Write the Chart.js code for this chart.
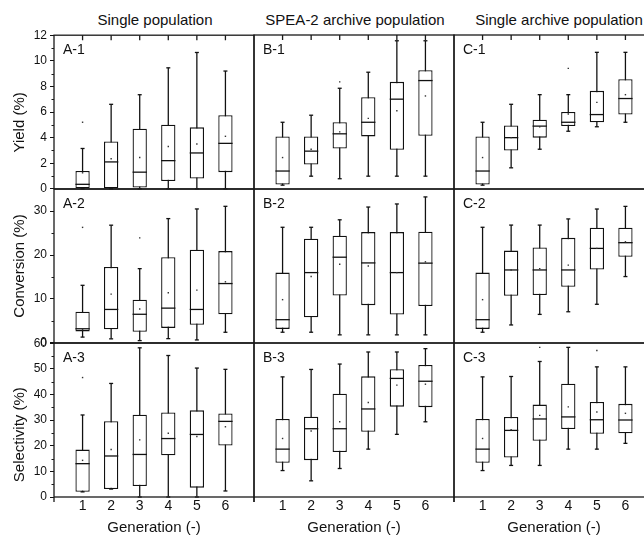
<!DOCTYPE html>
<html>
<head>
<meta charset="utf-8">
<script src="https://cdn.jsdelivr.net/npm/chart.js@4.4.0/dist/chart.umd.min.js"></script>
<style>
  body { margin: 0; background: #fff; }
  #wrap { position: relative; width: 644px; height: 537px; overflow: hidden; font-family: "Liberation Sans", Arial, sans-serif; }
  #wrap canvas { position: absolute; }
  .coltitle { position: absolute; top: 11px; font-size: 15px; line-height: 17px; white-space: nowrap; transform: translateX(-50%); color: #111; }
</style>
</head>
<body>
<div id="wrap">
  <div class="coltitle" style="left:155px">Single population</div>
  <div class="coltitle" style="left:355px">SPEA-2 archive population</div>
  <div class="coltitle" style="left:559px">Single archive population</div>
</div>
<script>
const FONT = '"Liberation Sans", Arial, sans-serif';

// categories and tick labels
const generations = [1, 2, 3, 4, 5, 6];
const yieldTicks = [0, 2, 4, 6, 8, 10, 12];
const yieldMinor = [1, 3, 5, 7, 9, 11];
const conversionTicks = [0, 10, 20, 30];
const conversionMinor = [5, 15, 25];
const selectivityTicks = [0, 10, 20, 30, 40, 50, 60];
const selectivityMinor = [5, 15, 25, 35, 45, 55];

// A-1 yield, single population
const a1Min = [0, 0, 0, 0, 0, 0];
const a1Q1 = [0, 0, 0.1, 0.6, 0.8, 1.3];
const a1Median = [0.35, 2.1, 1.3, 2.2, 2.8, 3.55];
const a1Q3 = [1.4, 3.7, 4.7, 5.0, 4.8, 5.75];
const a1Max = [3.15, 6.6, 7.35, 9.45, 10.65, 9.2];
const a1Mean = [1.25, 2.35, 2.45, 3.3, 3.5, 4.1];
const a1Outliers = [[1, 5.2]];

// B-1 yield, SPEA-2 archive population
const b1Min = [0.3, 1.0, 0.8, 1.0, 1.0, 1.0];
const b1Q1 = [0.35, 1.9, 3.15, 4.1, 3.05, 4.15];
const b1Median = [1.4, 2.95, 4.3, 5.2, 7.0, 8.45];
const b1Q3 = [4.1, 4.1, 5.2, 7.15, 8.35, 9.25];
const b1Max = [5.2, 5.75, 7.85, 9.1, 11.55, 11.55];
const b1Mean = [2.45, 3.1, 4.45, 5.5, 6.1, 7.25];
const b1Outliers = [[3, 8.35]];

// C-1 yield, single archive population
const c1Min = [0.3, 1.65, 3.1, 4.5, 4.85, 5.2];
const c1Q1 = [0.35, 3.0, 4.0, 4.9, 5.2, 5.8];
const c1Median = [1.4, 4.0, 4.9, 5.2, 5.8, 7.05];
const c1Q3 = [4.1, 4.95, 5.4, 6.0, 7.65, 8.55];
const c1Max = [5.2, 6.6, 7.35, 7.35, 10.65, 10.65];
const c1Mean = [2.45, 4.0, 4.85, 5.85, 6.75, 7.35];
const c1Outliers = [[4, 9.4]];

// A-2 conversion
const a2Min = [1.3, 0.9, 0.5, 0.95, 0.65, 2.4];
const a2Q1 = [2.6, 3.1, 2.5, 3.4, 4.1, 6.5];
const a2Median = [3.2, 7.6, 6.5, 7.9, 7.6, 13.5];
const a2Q3 = [7.1, 17.3, 9.8, 19.5, 21.2, 20.9];
const a2Max = [13.1, 26.8, 16.9, 28.3, 30.5, 31.1];
const a2Mean = [3.0, 11.1, 7.7, 11.4, 12.0, 13.9];
const a2Outliers = [[1, 26.3], [3, 23.9]];

// B-2 conversion
const b2Min = [2.45, 2.45, 1.85, 1.85, 1.85, 1.85];
const b2Q1 = [3.2, 5.85, 10.8, 8.6, 6.45, 8.4];
const b2Median = [5.3, 16.0, 19.5, 18.2, 16.0, 18.15];
const b2Q3 = [16.0, 23.7, 24.4, 25.2, 25.2, 25.3];
const b2Max = [26.3, 26.3, 28.0, 30.9, 31.6, 33.2];
const b2Mean = [9.85, 15.1, 17.9, 17.5, 16.0, 18.45];
const b2Outliers = [];

// C-2 conversion
const c2Min = [2.45, 4.1, 6.5, 7.1, 8.8, 15.1];
const c2Q1 = [3.2, 10.75, 10.9, 12.8, 16.7, 19.6];
const c2Median = [5.3, 16.6, 16.6, 16.6, 21.5, 22.8];
const c2Q3 = [16.0, 21.0, 21.7, 23.9, 26.2, 26.2];
const c2Max = [26.3, 26.8, 26.8, 28.2, 30.45, 31.05];
const c2Mean = [9.85, 16.6, 16.9, 17.7, 21.5, 23.0];
const c2Outliers = [];

// A-3 selectivity
const a3Min = [2.0, 3.1, 0, 0, 0, 2.35];
const a3Q1 = [2.0, 3.1, 4.3, 16.3, 3.65, 20.1];
const a3Median = [13.0, 16.0, 16.6, 22.8, 24.4, 29.5];
const a3Q3 = [18.5, 29.6, 32.1, 33.0, 33.8, 32.6];
const a3Max = [32.0, 44.3, 58.2, 55.2, 50.3, 49.8];
const a3Mean = [14.3, 18.5, 22.3, 24.9, 23.6, 27.4];
const a3Outliers = [[1, 46.6]];

// B-3 selectivity
const b3Min = [10.3, 6.3, 11.1, 18.65, 24.4, 29.3];
const b3Q1 = [13.3, 14.35, 17.5, 25.4, 35.2, 35.0];
const b3Median = [18.65, 26.6, 26.6, 34.3, 46.2, 45.1];
const b3Q3 = [30.4, 31.3, 40.2, 47.0, 49.8, 51.4];
const b3Max = [46.8, 49.7, 51.8, 56.5, 56.5, 57.8];
const b3Mean = [22.8, 25.7, 29.3, 36.8, 43.6, 43.95];
const b3Outliers = [];

// C-3 selectivity
const c3Min = [10.3, 12.3, 12.3, 18.65, 18.65, 20.9];
const c3Q1 = [13.3, 15.4, 21.9, 26.5, 24.65, 24.8];
const c3Median = [18.65, 25.95, 30.4, 31.2, 30.1, 30.0];
const c3Q3 = [30.4, 31.2, 36.0, 44.1, 37.0, 36.3];
const c3Max = [46.8, 46.95, 52.8, 58.3, 50.7, 50.7];
const c3Mean = [22.8, 26.2, 31.8, 35.1, 33.1, 32.6];
const c3Outliers = [[3, 58.3], [5, 57.1]];

// layout of the 3x3 grid (pixels)
const panelLeft = [54, 254, 454];
const rowTop = [35, 189, 343];
const panelW = 200, panelH = 154;

// frame, inner ticks, minor ticks and panel letter
const framePlugin = {
  id: 'frame',
  afterDatasetsDraw(chart, args, o) {
    const {ctx, chartArea: a, scales} = chart;
    ctx.save();
    ctx.strokeStyle = '#1a1a1a';
    ctx.lineWidth = 1.3;
    ctx.strokeRect(a.left, a.top, a.right - a.left, a.bottom - a.top);
    ctx.beginPath();
    if (o.topTicks) {
      generations.forEach(g => {
        const x = scales.x.getPixelForValue(g);
        ctx.moveTo(x, a.top);
        ctx.lineTo(x, a.top + 5);
      });
    }
    if (o.edgeTicks) {
      ctx.moveTo(a.left, a.bottom); ctx.lineTo(a.left, a.bottom + 5);
      ctx.moveTo(a.right, a.bottom); ctx.lineTo(a.right, a.bottom + 5);
    }
    ctx.stroke();
    if (o.minor) {
      ctx.lineWidth = 1;
      ctx.beginPath();
      o.minor.forEach(v => {
        const y = Math.round(scales.y.getPixelForValue(v)) + 0.5;
        ctx.moveTo(a.left - 2.5, y);
        ctx.lineTo(a.left, y);
      });
      ctx.stroke();
    }
    ctx.fillStyle = '#111';
    ctx.font = '14px ' + FONT;
    ctx.textBaseline = 'alphabetic';
    ctx.fillText(o.label, a.left + 9, a.top + 19);
    ctx.restore();
  }
};

function boxPanel(row, col, label, s, yMax, yTicks, yMinor, yTitle) {
  // side padding is kept above the 8.4px Chart.js reserves for tick labels,
  // so the chart area lands exactly on the panel
  const axisW = col === 0 ? 54 : 0;
  const padL = col === 0 ? 0 : 10;
  const padR = 10, padT = 10;
  const padB = row === 2 ? 0 : 10;
  const axisH = row === 2 ? 40 : 0;

  const canvas = document.createElement('canvas');
  canvas.width = padL + axisW + panelW + padR;
  canvas.height = padT + panelH + padB + axisH;
  canvas.style.left = (panelLeft[col] - axisW - padL) + 'px';
  canvas.style.top = (rowTop[row] - padT) + 'px';
  document.getElementById('wrap').appendChild(canvas);

  const pts = vals => generations.map((g, i) => ({x: g, y: vals[i]}));
  const caps = generations.map((g, i) => ({x: g, y: s.min[i]}))
    .concat(generations.map((g, i) => ({x: g, y: s.max[i]})));

  return new Chart(canvas, {
    type: 'bar',
    data: {
      datasets: [
        { // whiskers
          type: 'bar',
          data: generations.map((g, i) => ({x: g, y: [s.min[i], s.max[i]]})),
          backgroundColor: '#111',
          barPercentage: 0.045,
          categoryPercentage: 1,
          grouped: false,
          clip: false,
          order: 4
        },
        { // boxes
          type: 'bar',
          data: generations.map((g, i) => ({x: g, y: [s.q1[i], s.q3[i]]})),
          backgroundColor: '#fff',
          borderColor: '#111',
          borderWidth: 1.3,
          borderSkipped: false,
          barPercentage: 0.5,
          categoryPercentage: 1,
          grouped: false,
          clip: false,
          order: 3
        },
        { // medians
          type: 'scatter',
          data: pts(s.median),
          pointStyle: 'line',
          pointRadius: 7.15,
          pointBorderColor: '#111',
          pointBorderWidth: 1.3,
          clip: false,
          order: 2
        },
        { // whisker caps
          type: 'scatter',
          data: caps,
          pointStyle: 'line',
          pointRadius: 2,
          pointBorderColor: '#111',
          pointBorderWidth: 1.3,
          clip: false,
          order: 2
        },
        { // means
          type: 'scatter',
          data: pts(s.mean),
          pointStyle: 'rect',
          pointRadius: 1,
          pointBackgroundColor: '#333',
          pointBorderWidth: 0,
          clip: false,
          order: 1
        },
        { // outliers
          type: 'scatter',
          data: s.outliers.map(p => ({x: p[0], y: p[1]})),
          pointStyle: 'rect',
          pointRadius: 1,
          pointBackgroundColor: '#333',
          pointBorderWidth: 0,
          clip: false,
          order: 1
        }
      ]
    },
    options: {
      responsive: false,
      animation: false,
      events: [],
      layout: { padding: { left: padL, right: padR, top: padT, bottom: padB } },
      plugins: {
        legend: { display: false },
        tooltip: { enabled: false },
        frame: { label: label, topTicks: row === 0, edgeTicks: row === 2, minor: col === 0 ? yMinor : null }
      },
      scales: {
        x: {
          type: 'linear',
          min: 0,
          max: 7,
          offset: false,
          display: row === 2,
          afterBuildTicks: sc => { sc.ticks = generations.map(v => ({value: v})); },
          afterFit: sc => { sc.height = axisH; },
          grid: { display: false, drawTicks: false, tickLength: 0 },
          border: { display: false },
          ticks: { padding: 1, color: '#111', font: { size: 14, family: FONT } },
          title: {
            display: true,
            text: 'Generation (-)',
            color: '#111',
            font: { size: 15, family: FONT },
            padding: { top: 0, bottom: 0 }
          }
        },
        y: {
          min: 0,
          max: yMax,
          display: col === 0,
          afterBuildTicks: sc => { sc.ticks = yTicks.map(v => ({value: v})); },
          afterFit: sc => { sc.width = axisW; },
          grid: { drawOnChartArea: false, drawTicks: true, tickLength: 4, color: '#111', tickColor: '#111' },
          border: { display: false },
          ticks: { padding: 3, color: '#111', autoSkip: false, font: { size: 12, family: FONT } },
          title: {
            display: true,
            text: yTitle,
            color: '#111',
            font: { size: 15, family: FONT },
            padding: { top: 11, bottom: 0 }
          }
        }
      }
    },
    plugins: [framePlugin]
  });
}

const stats = (min, q1, median, q3, max, mean, outliers) => ({min, q1, median, q3, max, mean, outliers});

// trailing spaces nudge the rotated titles downward like the original figure
const yieldTitle = 'Yield (%)     ';
const conversionTitle = 'Conversion (%)';
const selectivityTitle = 'Selectivity (%)       ';

boxPanel(0, 0, 'A-1', stats(a1Min, a1Q1, a1Median, a1Q3, a1Max, a1Mean, a1Outliers), 12, yieldTicks, yieldMinor, yieldTitle);
boxPanel(0, 1, 'B-1', stats(b1Min, b1Q1, b1Median, b1Q3, b1Max, b1Mean, b1Outliers), 12, yieldTicks, yieldMinor, yieldTitle);
boxPanel(0, 2, 'C-1', stats(c1Min, c1Q1, c1Median, c1Q3, c1Max, c1Mean, c1Outliers), 12, yieldTicks, yieldMinor, yieldTitle);

boxPanel(1, 0, 'A-2', stats(a2Min, a2Q1, a2Median, a2Q3, a2Max, a2Mean, a2Outliers), 35, conversionTicks, conversionMinor, conversionTitle);
boxPanel(1, 1, 'B-2', stats(b2Min, b2Q1, b2Median, b2Q3, b2Max, b2Mean, b2Outliers), 35, conversionTicks, conversionMinor, conversionTitle);
boxPanel(1, 2, 'C-2', stats(c2Min, c2Q1, c2Median, c2Q3, c2Max, c2Mean, c2Outliers), 35, conversionTicks, conversionMinor, conversionTitle);

boxPanel(2, 0, 'A-3', stats(a3Min, a3Q1, a3Median, a3Q3, a3Max, a3Mean, a3Outliers), 60, selectivityTicks, selectivityMinor, selectivityTitle);
boxPanel(2, 1, 'B-3', stats(b3Min, b3Q1, b3Median, b3Q3, b3Max, b3Mean, b3Outliers), 60, selectivityTicks, selectivityMinor, selectivityTitle);
boxPanel(2, 2, 'C-3', stats(c3Min, c3Q1, c3Median, c3Q3, c3Max, c3Mean, c3Outliers), 60, selectivityTicks, selectivityMinor, selectivityTitle);
</script>
</body>
</html>
